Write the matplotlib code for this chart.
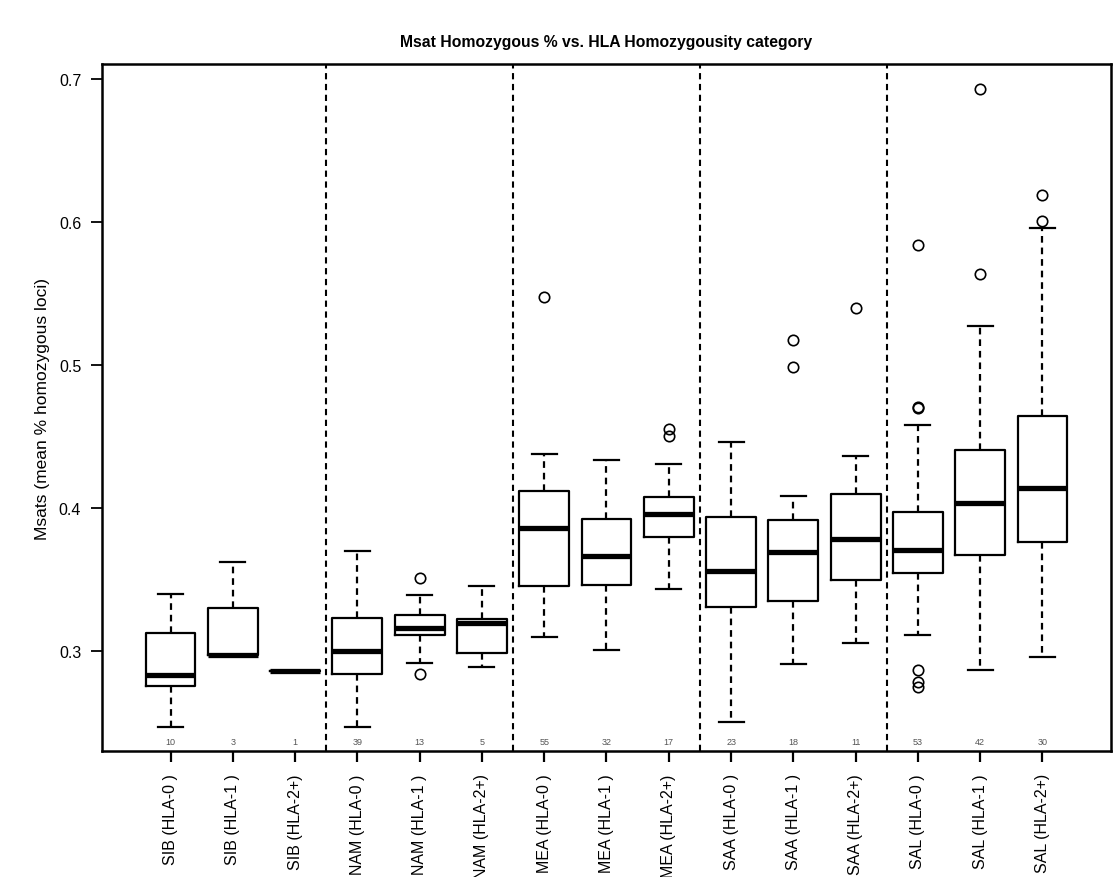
import matplotlib
matplotlib.use("Agg")
import matplotlib.pyplot as plt
import matplotlib.transforms as mtransforms

plt.rcParams['font.family'] = ['Liberation Sans', 'DejaVu Sans']

labels = ["SIB (HLA-0 )", "SIB (HLA-1 )", "SIB (HLA-2+)",
          "NAM (HLA-0 )", "NAM (HLA-1 )", "NAM (HLA-2+)",
          "MEA (HLA-0 )", "MEA (HLA-1 )", "MEA (HLA-2+)",
          "SAA (HLA-0 )", "SAA (HLA-1 )", "SAA (HLA-2+)",
          "SAL (HLA-0 )", "SAL (HLA-1 )", "SAL (HLA-2+)"]
counts = [10, 3, 1, 39, 13, 5, 55, 32, 17, 23, 18, 11, 53, 42, 30]

whislo = [0.247, 0.297, 0.286, 0.247, 0.2915, 0.2888, 0.310, 0.3008, 0.3433,
          0.2501, 0.2907, 0.3057, 0.3113, 0.2869, 0.2956]
q1 = [0.2754, 0.297, 0.286, 0.2839, 0.311, 0.2987, 0.3457, 0.3465, 0.3797,
      0.3309, 0.3352, 0.3497, 0.3545, 0.3669, 0.3763]
med = [0.2834, 0.297, 0.286, 0.3001, 0.3159, 0.3196, 0.3862, 0.3664, 0.3956,
       0.3559, 0.3696, 0.3784, 0.3707, 0.4036, 0.4138]
q3 = [0.3129, 0.3303, 0.286, 0.3231, 0.3255, 0.3223, 0.4117, 0.3921, 0.4074,
      0.394, 0.3918, 0.410, 0.397, 0.4408, 0.4645]
whishi = [0.3398, 0.3626, 0.286, 0.3698, 0.339, 0.3457, 0.4375, 0.4337, 0.431,
          0.4463, 0.4085, 0.4361, 0.4583, 0.5271, 0.5959]
outliers = [[], [], [], [], [0.3513, 0.2839], [], [0.5478], [], [0.4552, 0.4503],
            [], [0.5177, 0.4984], [0.5402],
            [0.5838, 0.4708, 0.4700, 0.2865, 0.2784, 0.2752],
            [0.6929, 0.564], [0.6188, 0.601]]

group_breaks = [3.5, 6.5, 9.5, 12.5]

stats = []
for i in range(len(labels)):
    stats.append(dict(med=med[i], q1=q1[i], q3=q3[i], whislo=whislo[i],
                      whishi=whishi[i], fliers=outliers[i], label=labels[i]))

W, H = 1116, 878
fig = plt.figure(figsize=(W / 100, H / 100), dpi=100)
ax = fig.add_axes([102 / W, 1 - 752 / H, (1111 - 102) / W, (752 - 65) / H])

positions = list(range(1, len(labels) + 1))
ax.bxp(stats, positions=positions, widths=0.8, showfliers=True,
       boxprops=dict(color='black', linewidth=1.6),
       medianprops=dict(color='black', linewidth=3.8, solid_capstyle='butt'),
       whiskerprops=dict(color='black', linewidth=1.6, linestyle=(0, (3, 2.2))),
       capprops=dict(color='black', linewidth=1.6),
       flierprops=dict(marker='o', markerfacecolor='none', markeredgecolor='black',
                       markersize=7.5, markeredgewidth=1.2, linestyle='none'),
       capwidths=0.4)

for b in group_breaks:
    ax.axvline(b, color='black', linewidth=1.5, linestyle=(0, (3, 2.2)))

trans = mtransforms.blended_transform_factory(ax.transData, ax.transAxes)
for p, c in zip(positions, counts):
    ax.text(p, 0.0145, str(c), transform=trans, ha='center', va='center',
            fontsize=6.5, color='#555555')

ax.set_xlim(-0.1, 16.1)
ax.set_ylim(0.2301, 0.7105)
ax.set_yticks([0.3, 0.4, 0.5, 0.6, 0.7])
ax.set_yticklabels(["0.3", "0.4", "0.5", "0.6", "0.7"])
ax.set_xticks(positions)
ax.set_xticklabels(labels, rotation=90, fontsize=11.5)
ax.tick_params(axis='y', labelsize=11.5, length=8, width=1.3, pad=7)
ax.tick_params(axis='x', length=8, width=1.6, pad=8)
for s in ax.spines.values():
    s.set_linewidth(1.8)

ax.set_ylabel("Msats (mean % homozygous loci)", fontsize=12.5, labelpad=6)
fig.text(606 / W, 1 - 42 / H, "Msat Homozygous % vs. HLA Homozygousity category",
         ha='center', va='center', fontsize=11.3, fontweight='bold')

fig.savefig("out.png", dpi=100)
